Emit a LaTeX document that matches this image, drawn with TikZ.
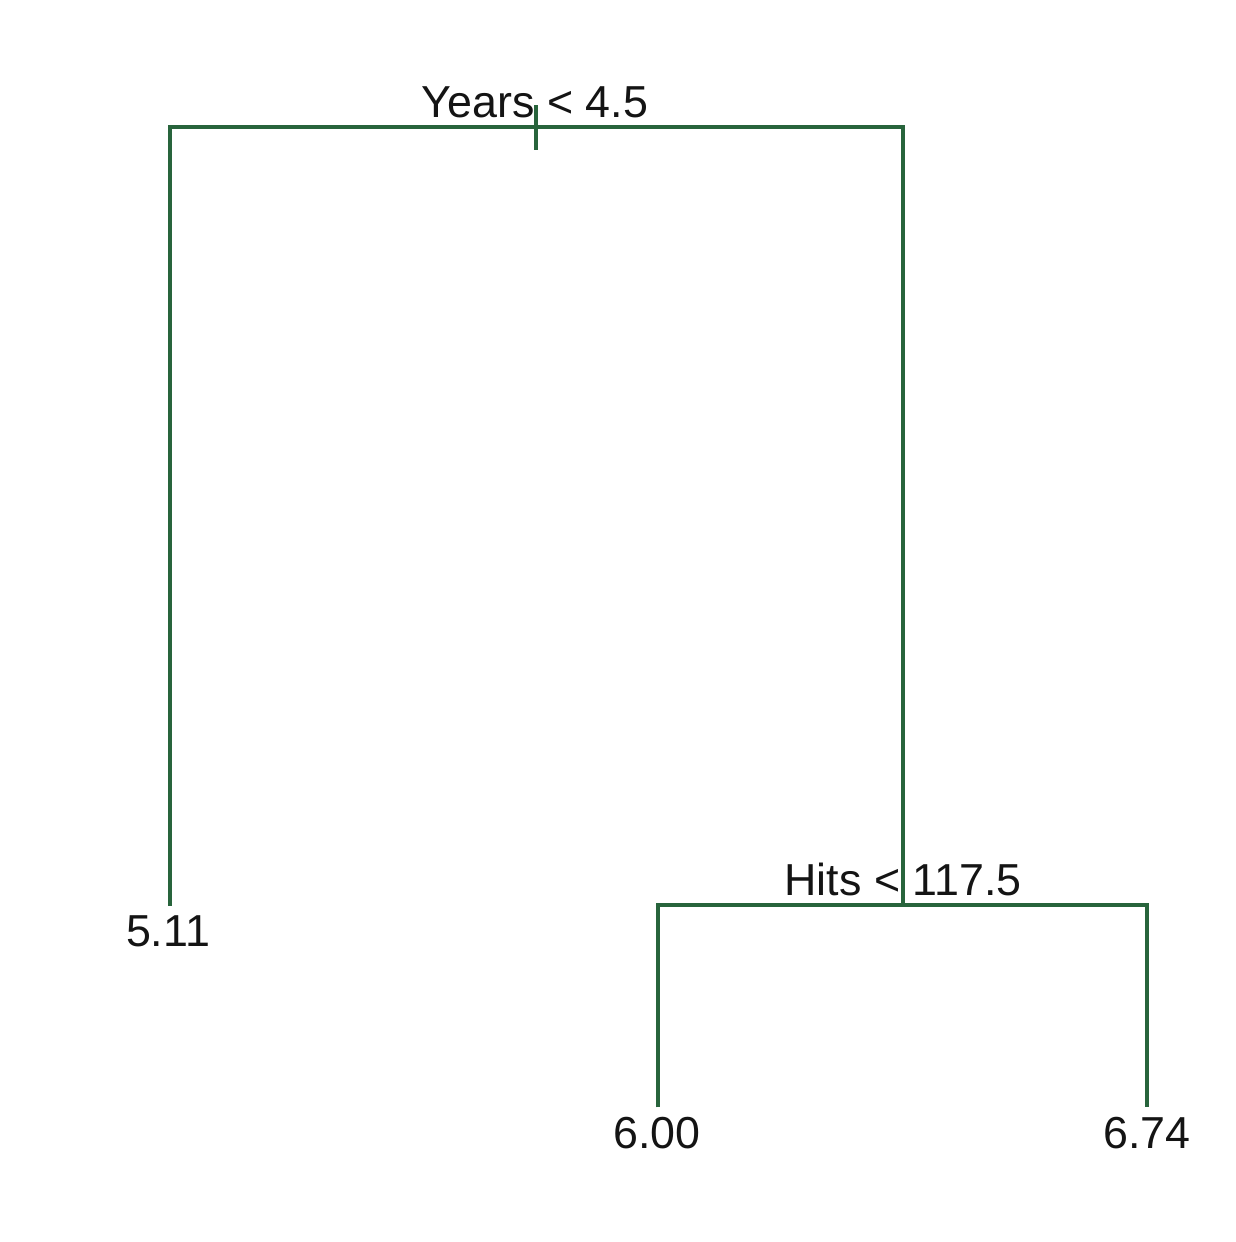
\documentclass[tikz,border=0pt]{standalone}
\usepackage{fontspec}
\setmainfont{Liberation Sans}
\usepackage{tikz}
\usetikzlibrary{calc,positioning}
\definecolor{treegreen}{RGB}{40,100,60}

\begin{document}
\begin{tikzpicture}[x=0.02cm,y=-0.02cm,
    branch/.style={treegreen, line width=1.9pt},
    lbl/.style={text=black!92, font=\fontsize{25.5}{30}\selectfont, inner xsep=0pt, inner ysep=0.2cm}]
\useasboundingbox (0,0) rectangle (1236,1242);
% split points
\coordinate (years) at (536,127);
\coordinate (yearsL) at (170,127);
\coordinate (yearsR) at (903,127);
\coordinate (hits) at (903,905);
\coordinate (hitsL) at (658,905);
\coordinate (hitsR) at (1147,905);
\coordinate (stubtop) at (536,105);
\coordinate (stubbot) at (536,150);
% labels
\node[lbl, inner ysep=0pt, anchor=base] (splitA) at (535,117) {Years < 4.5};
\node[lbl, inner ysep=0pt, anchor=base] (splitB) at (903,895) {Hits < 117.5};
\node[lbl] (leafA) at (168,931.5) {5.11};
\node[lbl] (leafB) at (657,1133.5) {6.00};
\node[lbl] (leafC) at (1147,1133.5) {6.74};
% branches
\draw[branch] (stubtop) -- (stubbot);
\draw[branch] (yearsL |- leafA.north) -- (yearsL) -- (yearsR) -- (hits);
\draw[branch] (hitsL |- leafB.north) -- (hitsL) -- (hitsR) -- (hitsR |- leafC.north);
\end{tikzpicture}
\end{document}
